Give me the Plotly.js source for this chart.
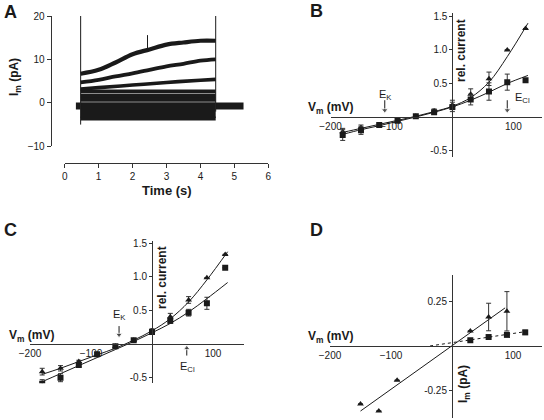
<!DOCTYPE html>
<html>
<head>
<meta charset="utf-8">
<script src="https://cdn.plot.ly/plotly-3.0.1.min.js"></script>
<style>html,body{margin:0;padding:0;background:#fff;}#chart{width:544px;height:420px;}</style>
</head>
<body>
<div id="chart"></div>
<script>
// ---------- Panel A: current traces (time in s, current in pA) ----------
const A_t1 = [0.47, 1, 1.5, 2, 2.5, 3, 3.5, 4, 4.45];
const A_i1 = [6.7, 7.6, 9.3, 11.2, 12.3, 13.4, 13.9, 14.3, 14.3];
const A_t2 = [0.47, 1, 1.5, 2, 2.5, 3, 3.5, 4, 4.45];
const A_i2 = [4.7, 5.3, 6.1, 6.8, 7.6, 8.4, 9.0, 9.7, 10.0];
const A_t3 = [0.47, 1, 2, 3, 4, 4.45];
const A_i3 = [3.2, 3.5, 4.1, 4.7, 5.2, 5.4];
const A_tFlat = [0.47, 4.45];
const A_flatLevels = [2.6, 1.6, 0.7, -0.3, -1.2, -2.1, -3.0, -3.6];
const A_tPre = [0.33, 0.47];
const A_tPost = [4.45, 5.27];
const A_base = [-0.7, -0.7];
const A_stepOnT = [0.47, 0.47];
const A_stepOnI = [-5, 20];
const A_stepOffT = [4.45, 4.45];
const A_stepOffI = [-2, 20];
const A_spikeT = [2.44, 2.44];
const A_spikeI = [12, 15.6];
const A_xticks = [0, 1, 2, 3, 4, 5, 6];
const A_yticks = [-10, 0, 10, 20];

// ---------- Panel B ----------
const V = [-180, -150, -120, -90, -60, -30, 0, 30, 60, 90, 120];
const B_sq = [-0.27, -0.20, -0.12, -0.055, 0.01, 0.07, 0.15, 0.26, 0.38, 0.52, 0.55];
const B_sqErr = [0.08, 0.06, 0.03, 0.02, 0.015, 0.03, 0.07, 0.08, 0.13, 0.12, 0];
const B_tri = [-0.22, -0.16, -0.12, -0.055, 0.01, 0.09, 0.18, 0.34, 0.57, 1.00, 1.32];
const B_triErr = [0.05, 0.04, 0.02, 0.02, 0.015, 0.03, 0.07, 0.08, 0.10, 0, 0];
const fitV = [-180, -150, -120, -90, -60, -30, 0, 30, 60, 90, 124];
const B_fitSq = [-0.26, -0.19, -0.13, -0.065, 0.0, 0.07, 0.15, 0.25, 0.37, 0.50, 0.62];
const B_fitTri = [-0.23, -0.17, -0.11, -0.05, 0.01, 0.08, 0.16, 0.29, 0.52, 0.90, 1.40];
const B_EK = -111, B_ECl = 90;
const B_arrowY = [0.25, 0.1];

// ---------- Panel C ----------
const C_sq = [-0.60, -0.51, -0.32, -0.16, -0.04, 0.05, 0.17, 0.34, 0.46, 0.60, 1.13];
const C_sqErr = [0.06, 0.06, 0.03, 0.02, 0.015, 0.015, 0.03, 0.04, 0.05, 0.09, 0];
const C_tri = [-0.42, -0.37, -0.27, -0.16, -0.04, 0.05, 0.19, 0.40, 0.65, 0.98, 1.33];
const C_triErr = [0.05, 0.04, 0.02, 0.02, 0.015, 0.015, 0.03, 0.05, 0.05, 0, 0];
const C_fitSq = [-0.57, -0.45, -0.33, -0.21, -0.09, 0.03, 0.16, 0.30, 0.47, 0.67, 0.91];
const C_fitTri = [-0.46, -0.37, -0.27, -0.17, -0.07, 0.05, 0.19, 0.37, 0.62, 0.95, 1.37];
const C_EK = -54, C_ECl = 57;
const C_EKArrowY = [0.26, 0.13];
const C_EClArrowY = [-0.18, -0.07];

// ---------- Panel D ----------
const D_triV = [-150, -120, -90, 30, 60, 90];
const D_tri = [-0.325, -0.364, -0.192, 0.084, 0.162, 0.194];
const D_triErr = [0, 0, 0, 0, 0.077, 0.11];
const D_sqV = [30, 60, 90, 120];
const D_sq = [0.032, 0.050, 0.062, 0.076];
const D_sqErr = [0, 0, 0, 0.012];
const D_fitTriV = [-150, 87];
const D_fitTri = [-0.364, 0.213];
const D_fitSqV = [-36, 120];
const D_fitSq = [0.0, 0.08];

const mvTicks = [-200, -100, 100];
const relTicks = [-0.5, 0.5, 1.0, 1.5];
const relTickText = ['-0.5', '0.5', '1.0', '1.5'];
const imTicks = [-0.25, 0.25];

// ---------- helpers ----------
const W = 544, H = 420;
const fx = p => p / W;
const fy = p => 1 - p / H;
const FONT = 'Liberation Sans, Arial, sans-serif';
const INK = '#1a1a1a';

const traces = [];
function line(x, y, xa, ya, width, dash, shape) {
  traces.push({x: x, y: y, xaxis: xa, yaxis: ya, type: 'scatter', mode: 'lines',
    line: {color: INK, width: width, dash: dash || 'solid', shape: shape || 'linear', smoothing: 1}, hoverinfo: 'skip'});
}
function pts(x, y, err, xa, ya, sym, size) {
  traces.push({x: x, y: y, xaxis: xa, yaxis: ya, type: 'scatter', mode: 'markers',
    marker: {symbol: sym, size: size, color: INK},
    error_y: {type: 'data', array: err, visible: true, color: '#333', thickness: 1, width: 2.5},
    hoverinfo: 'skip'});
}
// arrow: y = [tail, tip]
function arrowTrace(xv, ys, xa, ya) {
  traces.push({x: [xv, xv], y: ys, xaxis: xa, yaxis: ya, type: 'scatter', mode: 'lines+markers',
    line: {color: INK, width: 1},
    marker: {symbol: ys[1] < ys[0] ? ['line-ew', 'triangle-down'] : ['line-ew', 'triangle-up'], size: [0, 6], color: INK},
    hoverinfo: 'skip'});
}

// Panel A
A_flatLevels.forEach(l => line(A_tFlat, [l, l], 'x', 'y', 4));
line(A_t3, A_i3, 'x', 'y', 3.6, 'solid', 'spline');
line(A_t2, A_i2, 'x', 'y', 3.8, 'solid', 'spline');
line(A_t1, A_i1, 'x', 'y', 4.2, 'solid', 'spline');
line(A_tPre, A_base, 'x', 'y', 7);
line(A_tPost, A_base, 'x', 'y', 7);
line(A_stepOnT, A_stepOnI, 'x', 'y', 1);
line(A_stepOffT, A_stepOffI, 'x', 'y', 1);
line(A_spikeT, A_spikeI, 'x', 'y', 1);

// Panel B
line(fitV, B_fitSq, 'x2', 'y2', 1, 'solid', 'spline');
line(fitV, B_fitTri, 'x2', 'y2', 1, 'solid', 'spline');
pts(V, B_tri, B_triErr, 'x2', 'y2', 'triangle-up', 6);
pts(V, B_sq, B_sqErr, 'x2', 'y2', 'square', 6);
arrowTrace(B_EK, B_arrowY, 'x2', 'y2');
arrowTrace(B_ECl, B_arrowY, 'x2', 'y2');

// Panel C
line(fitV, C_fitSq, 'x3', 'y3', 1, 'solid', 'spline');
line(fitV, C_fitTri, 'x3', 'y3', 1, 'solid', 'spline');
pts(V, C_tri, C_triErr, 'x3', 'y3', 'triangle-up', 6);
pts(V, C_sq, C_sqErr, 'x3', 'y3', 'square', 6);
arrowTrace(C_EK, C_EKArrowY, 'x3', 'y3');
arrowTrace(C_ECl, C_EClArrowY, 'x3', 'y3');

// Panel D
line(D_fitTriV, D_fitTri, 'x4', 'y4', 1);
line(D_fitSqV, D_fitSq, 'x4', 'y4', 1, 'dot');
pts(D_triV, D_tri, D_triErr, 'x4', 'y4', 'triangle-up', 6);
pts(D_sqV, D_sq, D_sqErr, 'x4', 'y4', 'square', 6);

function axis(domain, range, pos, extra) {
  return Object.assign({
    domain: domain, range: range, anchor: 'free', position: pos,
    showline: true, linecolor: '#333', linewidth: 1, showgrid: false, zeroline: false,
    ticks: 'outside', ticklen: 3, tickwidth: 1, tickcolor: '#333',
    tickfont: {family: FONT, size: 10, color: INK}, tickmode: 'array', fixedrange: true
  }, extra || {});
}

const layout = {
  width: W, height: H, margin: {l: 0, r: 0, t: 0, b: 0},
  paper_bgcolor: '#fff', plot_bgcolor: 'rgba(0,0,0,0)', showlegend: false,
  font: {family: FONT, color: INK},
  xaxis: axis([fx(64.7), fx(268.3)], [0, 6], fy(162.7), {tickvals: A_xticks, ticklen: 4}),
  yaxis: axis([fy(146.3), fy(16)], [-10, 20], fx(50.7), {tickvals: A_yticks, ticklen: 4}),
  xaxis2: axis([fx(330.5), fx(542)], [-200, 147], fy(117), {tickvals: mvTicks, ticks: ''}),
  yaxis2: axis([fy(156.7), fy(13)], [-0.593, 1.552], fx(452.4), {tickvals: relTicks, ticktext: relTickText}),
  xaxis3: axis([fx(30), fx(243.5)], [-200, 150], fy(343.5), {tickvals: mvTicks, ticks: ''}),
  yaxis3: axis([fy(383.3), fy(241)], [-0.594, 1.53], fx(152), {tickvals: relTicks, ticktext: relTickText}),
  xaxis4: axis([fx(330), fx(542)], [-200, 147.5], fy(346), {tickvals: mvTicks, ticks: ''}),
  yaxis4: axis([fy(418), fy(275)], [-0.403, 0.397], fx(452), {tickvals: imTicks, ticktext: ['-0.25', '0.25']}),
  annotations: []
};

function txt(text, px, py, size, opts) {
  layout.annotations.push(Object.assign({
    text: text, xref: 'paper', yref: 'paper', x: fx(px), y: fy(py),
    xanchor: 'center', yanchor: 'middle', showarrow: false,
    font: {family: FONT, size: size, color: INK}
  }, opts || {}));
}

// panel letters
txt('<b>A</b>', 10, 12, 18);
txt('<b>B</b>', 316, 11, 18);
txt('<b>C</b>', 10, 230, 18);
txt('<b>D</b>', 316, 230, 18);
// panel A titles
txt('<b>Time (s)</b>', 167, 191, 13);
txt('<b>I<sub>m</sub> (pA)</b>', 15, 77, 12, {textangle: -90});
// panel B
txt('<b>V<sub>m</sub> (mV)</b>', 330, 108, 12);
txt('<b>rel. current</b>', 461, 51, 12, {textangle: -90});
txt('E<sub>K</sub>', 385, 95, 11);
txt('E<sub>Cl</sub>', 522, 98, 11);
// panel C
txt('<b>V<sub>m</sub> (mV)</b>', 31.5, 336, 12);
txt('<b>rel. current</b>', 162, 278, 12, {textangle: -90});
txt('E<sub>K</sub>', 119, 315, 11);
txt('E<sub>Cl</sub>', 187, 367, 11);
// panel D
txt('<b>V<sub>m</sub> (mV)</b>', 330, 337, 12);
txt('<b>I<sub>m</sub> (pA)</b>', 464, 384, 12, {textangle: -90});

Plotly.newPlot('chart', traces, layout, {staticPlot: true, displayModeBar: false});
</script>
</body>
</html>
